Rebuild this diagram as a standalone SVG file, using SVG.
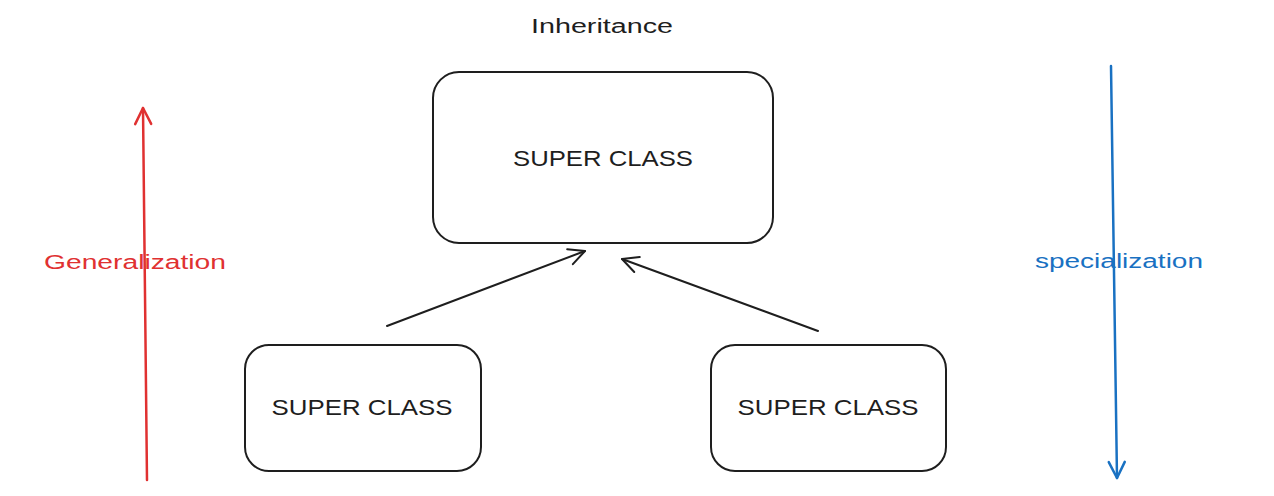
<svg xmlns="http://www.w3.org/2000/svg" width="1274" height="496" viewBox="0 0 1274 496">
  <style>
    .box { fill: none; stroke: #1e1e1e; stroke-width: 2; }
    .lbl { font-family: "Liberation Sans", Arial, sans-serif; fill: #1e1e1e; text-anchor: middle; dominant-baseline: central; }
    .conn { fill: none; stroke: #1e1e1e; stroke-width: 2; stroke-linecap: round; stroke-linejoin: round; }
    .red { stroke: #e03131; stroke-width: 2.5; }
    .blue { stroke: #1971c2; stroke-width: 2.5; }
  </style>
  <defs>
    <marker id="ahk" viewBox="0 0 20 20" refX="18" refY="10" markerWidth="20" markerHeight="20" markerUnits="userSpaceOnUse" orient="auto">
      <path d="M2 2 L18 10 L2 18" fill="none" stroke="#1e1e1e" stroke-width="2" stroke-linecap="round" stroke-linejoin="round"/>
    </marker>
    <marker id="ahr" viewBox="0 0 20 20" refX="18" refY="10" markerWidth="20" markerHeight="20" markerUnits="userSpaceOnUse" orient="auto">
      <path d="M2 2 L18 10 L2 18" fill="none" stroke="#e03131" stroke-width="2.5" stroke-linecap="round" stroke-linejoin="round"/>
    </marker>
    <marker id="ahb" viewBox="0 0 20 20" refX="18" refY="10" markerWidth="20" markerHeight="20" markerUnits="userSpaceOnUse" orient="auto">
      <path d="M2 2 L18 10 L2 18" fill="none" stroke="#1971c2" stroke-width="2.5" stroke-linecap="round" stroke-linejoin="round"/>
    </marker>
  </defs>

  <g id="title">
    <text class="lbl" x="602" y="26" font-size="20" textLength="142" lengthAdjust="spacingAndGlyphs">Inheritance</text>
  </g>

  <g id="super-top">
    <rect class="box" x="433" y="72" width="340" height="171" rx="26" ry="26"/>
    <text class="lbl" x="603" y="158" font-size="22" textLength="180" lengthAdjust="spacingAndGlyphs">SUPER CLASS</text>
  </g>

  <g id="sub-left">
    <rect class="box" x="245" y="345" width="236" height="126" rx="24" ry="24"/>
    <text class="lbl" x="362" y="407" font-size="22" textLength="181" lengthAdjust="spacingAndGlyphs">SUPER CLASS</text>
  </g>

  <g id="sub-right">
    <rect class="box" x="711" y="345" width="235" height="126" rx="24" ry="24"/>
    <text class="lbl" x="828" y="407" font-size="22" textLength="181" lengthAdjust="spacingAndGlyphs">SUPER CLASS</text>
  </g>

  <g id="connectors">
    <path class="conn" d="M387 326 L585 251" marker-end="url(#ahk)"/>
    <path class="conn" d="M818 331 L622 259" marker-end="url(#ahk)"/>
    <path class="conn red" d="M147 480 L143 108" marker-end="url(#ahr)"/>
    <path class="conn blue" d="M1111 66 L1117 478" marker-end="url(#ahb)"/>
  </g>

  <g id="generalization-label">
    <text class="lbl" x="135" y="262" font-size="20" style="fill:#e03131" textLength="182" lengthAdjust="spacingAndGlyphs">Generalization</text>
  </g>

  <g id="specialization-label">
    <text class="lbl" x="1119" y="261" font-size="20" style="fill:#1971c2" textLength="168" lengthAdjust="spacingAndGlyphs">specialization</text>
  </g>
</svg>
